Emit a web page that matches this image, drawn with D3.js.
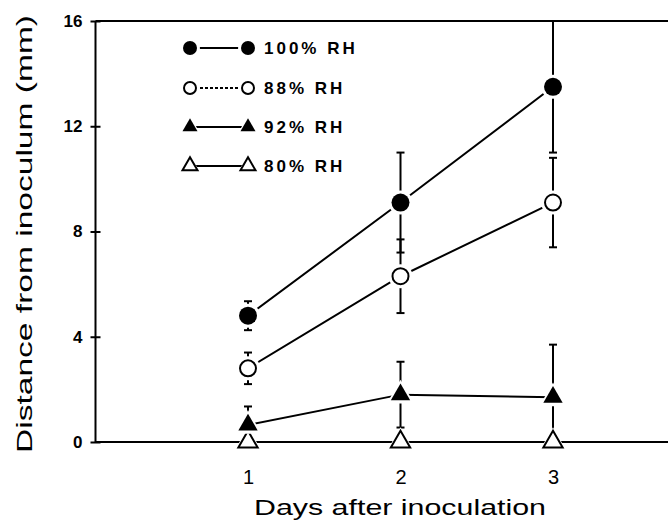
<!DOCTYPE html>
<html>
<head>
<meta charset="utf-8">
<script src="https://cdn.jsdelivr.net/npm/d3@7"></script>
<style>
  body { margin: 0; background: #fff; }
  svg { display: block; font-family: "Liberation Sans", Arial, sans-serif; }
</style>
</head>
<body>
<div id="chart"></div>
<script>
// Data
const days = [1, 2, 3];
const yTicks = [0, 4, 8, 12, 16];
const seriesNames = ["100% RH", "88% RH", "92% RH", "80% RH"];
const rh100 = [4.8, 9.1, 13.5];
const rh100Err = [0.55, 1.9, 2.5];
const rh88 = [2.8, 6.3, 9.1];
const rh88Err = [0.6, 1.4, 1.7];
const rh92 = [0.65, 1.8, 1.7];
const rh92Err = [0.7, 1.25, 2.0];
const rh80 = [0, 0, 0];
const rh80Err = [0, 0, 0];

const width = 668;
const height = 525;

const series = [
  {name: seriesNames[0], values: rh100, err: rh100Err, shape: "circle", filled: true},
  {name: seriesNames[1], values: rh88, err: rh88Err, shape: "circle", filled: false},
  {name: seriesNames[2], values: rh92, err: rh92Err, shape: "triangle", filled: true},
  {name: seriesNames[3], values: rh80, err: rh80Err, shape: "triangle", filled: false}
];

const svg = d3.select("#chart")
  .append("svg")
    .attr("width", width)
    .attr("height", height);

// Scales
const xScale = d3.scaleLinear()
  .domain([0, 4])
  .range([95.5, 705.5]);
const yScale = d3.scaleLinear()
  .domain([0, 16])
  .range([442, 21]);

// Frame: top line
svg.append("line")
  .attr("x1", xScale(0)).attr("x2", width)
  .attr("y1", yScale(16)).attr("y2", yScale(16))
  .attr("stroke", "#000").attr("stroke-width", 2);

// Bottom axis
const bottomAxis = d3.axisBottom(xScale)
  .tickValues(days)
  .tickSize(0)
  .tickPadding(28)
  .tickFormat(d3.format("d"));
const gx = svg.append("g")
  .attr("transform", `translate(0, ${yScale(0)})`)
  .call(bottomAxis);
gx.select(".domain").remove();
gx.append("line")
  .attr("x1", xScale(0)).attr("x2", width)
  .attr("stroke", "#000").attr("stroke-width", 2);
gx.selectAll("text")
  .attr("fill", "#000")
  .style("font-size", "20px")
  .style("font-family", "'Liberation Sans', Arial, sans-serif");

// Left axis
const leftAxis = d3.axisLeft(yScale)
  .tickValues(yTicks)
  .tickSize(5)
  .tickPadding(8);
const gy = svg.append("g")
  .attr("transform", `translate(${xScale(0)}, 0)`)
  .call(leftAxis);
gy.select(".domain")
  .attr("d", `M0,${yScale(0)}V${yScale(16)}`)
  .attr("stroke-width", 2);
gy.selectAll(".tick line")
  .attr("x1", -5).attr("x2", 5)
  .attr("stroke-width", 2);
gy.selectAll(".tick text")
  .attr("fill", "#000")
  .style("font-size", "17px")
  .style("font-weight", "bold")
  .style("font-family", "'Liberation Sans', Arial, sans-serif");

// Axis titles
svg.append("text")
  .text("Days after inoculation")
  .attr("x", 400)
  .attr("y", 515)
  .attr("text-anchor", "middle")
  .attr("textLength", 292)
  .attr("lengthAdjust", "spacingAndGlyphs")
  .style("font-size", "22px");

svg.append("text")
  .text("Distance from inoculum (mm)")
  .attr("transform", `translate(32, 234) rotate(-90)`)
  .attr("text-anchor", "middle")
  .attr("textLength", 438)
  .attr("lengthAdjust", "spacingAndGlyphs")
  .style("font-size", "22px");

// Marker drawing
const triangle = d3.symbol().type(d3.symbolTriangle);
const drawMarker = (g, s, x, y, r) => {
  if (s.shape === "circle") {
    g.append("circle")
      .attr("cx", x).attr("cy", y).attr("r", r + 3)
      .attr("fill", "#fff");
    g.append("circle")
      .attr("cx", x).attr("cy", y).attr("r", s.filled ? r : r - 1)
      .attr("fill", s.filled ? "#000" : "#fff")
      .attr("stroke", "#000")
      .attr("stroke-width", s.filled ? 0 : 2);
  } else {
    const size = r * r * 2.0;
    g.append("path")
      .attr("d", triangle.size(size * 2)())
      .attr("transform", `translate(${x}, ${y + 1})`)
      .attr("fill", "#fff");
    g.append("path")
      .attr("d", triangle.size(size)())
      .attr("transform", `translate(${x}, ${y})`)
      .attr("fill", s.filled ? "#000" : "#fff")
      .attr("stroke", "#000")
      .attr("stroke-width", s.filled ? 0 : 2);
  }
};

const plot = svg.append("g");

// Error bars
series.forEach(s => {
  s.values.forEach((v, i) => {
    if (s.err[i] === 0) return;
    const top = yScale(Math.min(16, v + s.err[i]));
    const bot = yScale(Math.max(0, v - s.err[i]));
    const x = xScale(days[i]);
    plot.append("line")
      .attr("x1", x).attr("x2", x)
      .attr("y1", top).attr("y2", bot)
      .attr("stroke", "#000").attr("stroke-width", 2);
    [top, bot].forEach(yy => {
      if (yy === yScale(0) || yy === yScale(16)) return;
      plot.append("line")
        .attr("x1", x - 4).attr("x2", x + 4)
        .attr("y1", yy).attr("y2", yy)
        .attr("stroke", "#000").attr("stroke-width", 2);
    });
  });
});

// Lines
const lineGenerator = d3.line()
  .x((d, i) => xScale(days[i]))
  .y(d => yScale(d));
series.forEach(s => {
  plot.append("path")
    .attr("d", lineGenerator(s.values))
    .attr("fill", "none")
    .attr("stroke", "#000")
    .attr("stroke-width", 2);
});

// Markers
series.slice().reverse().forEach(s => {
  s.values.forEach((v, i) => {
    drawMarker(plot, s, xScale(days[i]), yScale(v), 9);
  });
});

// Legend
const legend = svg.append("g");
const legendY = [48, 88, 127, 166];
series.forEach((s, i) => {
  const y = legendY[i];
  legend.append("line")
    .attr("x1", 190).attr("x2", 248)
    .attr("y1", y).attr("y2", y)
    .attr("stroke", "#000")
    .attr("stroke-width", 2)
    .attr("stroke-dasharray", i === 1 ? "3,2" : null);
  drawMarker(legend, s, 190, y, 7);
  drawMarker(legend, s, 248, y, 7);
  legend.append("text")
    .text(s.name)
    .attr("x", 264)
    .attr("y", y)
    .attr("dy", "0.35em")
    .attr("letter-spacing", 3)
    .style("font-size", "17px")
    .style("font-weight", "bold");
});
</script>
</body>
</html>
